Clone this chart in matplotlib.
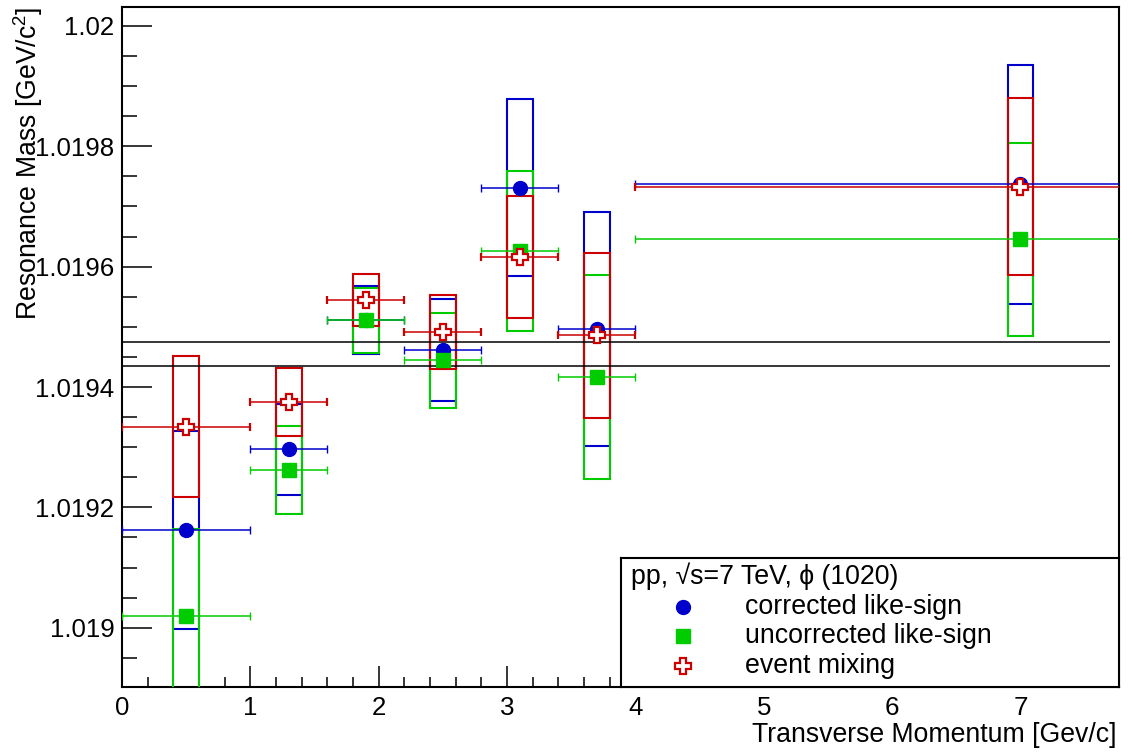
import matplotlib
matplotlib.use("Agg")
import matplotlib.pyplot as plt
import numpy as np
from matplotlib.ticker import FixedLocator, MultipleLocator

plt.rcParams['font.family'] = ['Liberation Sans', 'DejaVu Sans']
plt.rcParams['mathtext.fontset'] = 'custom'
plt.rcParams['mathtext.rm'] = 'Liberation Sans'
plt.rcParams['mathtext.it'] = 'Liberation Sans:italic'

# ---------------- data ----------------
pt_centers = [0.5, 1.3, 1.9, 2.5, 3.1, 3.7, 7.0]
bin_lo = [0.0, 1.0, 1.6, 2.2, 2.8, 3.4, 4.0]
bin_hi = [1.0, 1.6, 2.2, 2.8, 3.4, 4.0, 10.0]

mass_corr = [1.0191625, 1.0192963, 1.0195110, 1.0194615, 1.0197308, 1.0194962, 1.0197368]
sys_corr = [0.000164, 0.0000763, 0.0000561, 0.0000843, 0.000147, 0.000194, 0.000199]

mass_uncorr = [1.0190187, 1.0192620, 1.0195106, 1.0194443, 1.0196262, 1.0194168, 1.0196456]
sys_uncorr = [0.000145, 0.0000727, 0.0000533, 0.0000788, 0.000133, 0.000170, 0.000160]

mass_mix = [1.0193340, 1.0193749, 1.0195447, 1.0194912, 1.0196156, 1.0194857, 1.0197331]
sys_mix = [0.0001175, 0.0000567, 0.0000426, 0.0000619, 0.0001017, 0.0001377, 0.0001474]

pdg_mass = 1.019455
pdg_err = 0.000020

series_labels = ['corrected like-sign', 'uncorrected like-sign', 'event mixing']
header = 'pp, \u221as=7 TeV, \u03d5 (1020)'
x_title = 'Transverse Momentum [Gev/c]'
y_title = r'Resonance Mass [GeV/c$^{2}$]'
y_ticks = [1.019, 1.0192, 1.0194, 1.0196, 1.0198, 1.02]
y_tick_labels = ['1.019', '1.0192', '1.0194', '1.0196', '1.0198', '1.02']
x_ticks = [0, 1, 2, 3, 4, 5, 6, 7]

# ---------------- style ----------------
BLUE = '#0000cc'
GREEN = '#00cc00'
RED = '#cc0000'
W, H = 1132, 754

fig = plt.figure(figsize=(W / 100, H / 100), dpi=100)
ax = fig.add_axes([122 / W, 1 - 686.7 / H, (1119.3 - 122) / W, (686.7 - 6.7) / H])
ax.set_xlim(0, 7.77)
ax.set_ylim(1.018902, 1.020032)

x = np.array(pt_centers)
lo = np.array(bin_lo)
hi = np.array(bin_hi)
xerr = np.vstack([x - lo, hi - x])

box_w = 0.2
series = [
    (mass_corr, sys_corr, BLUE, 'o', 10, BLUE),
    (mass_uncorr, sys_uncorr, GREEN, 's', 10, GREEN),
    (mass_mix, sys_mix, RED, 'P', 11, 'white'),
]

# systematic boxes
for i, (m, s, c, mk, ms, mfc) in enumerate(series):
    m = np.array(m)
    s = np.array(s)
    ax.bar(x, 2 * s, bottom=m - s, width=box_w, fill=False, edgecolor=c,
           linewidth=1.5, zorder=2 + i)

# reference lines
ax.hlines([pdg_mass + pdg_err, pdg_mass - pdg_err], 0, 7.7, color='black',
          linewidth=1.1, zorder=5)

# points with x error bars
for i, (m, s, c, mk, ms, mfc) in enumerate(series):
    ax.errorbar(x, m, xerr=xerr, fmt=mk, color=c, ms=ms, mfc=mfc, mec=c,
                mew=1.6 if mk == 'P' else 1.0, elinewidth=1.1, capsize=2.6,
                capthick=1.1, zorder=6 + i, clip_on=True)

# axes styling
for sp in ax.spines.values():
    sp.set_linewidth(1.5)
ax.yaxis.set_major_locator(FixedLocator(y_ticks))
ax.set_yticklabels(y_tick_labels)
ax.yaxis.set_minor_locator(MultipleLocator(0.00005))
ax.xaxis.set_major_locator(FixedLocator(x_ticks))
ax.set_xticklabels([str(v) for v in x_ticks])
ax.xaxis.set_minor_locator(MultipleLocator(0.2))
ax.tick_params(axis='y', which='major', direction='in', length=21.6, width=1.1,
               labelsize=18.6, pad=5.5, left=True, right=False)
ax.tick_params(axis='y', which='minor', direction='in', length=10.8, width=1.1,
               left=True, right=False)
ax.tick_params(axis='x', which='major', direction='in', length=14.9, width=1.1,
               labelsize=18.6, pad=7, bottom=True, top=False)
ax.tick_params(axis='x', which='minor', direction='in', length=7.2, width=1.1,
               bottom=True, top=False)

# axis titles
fig.text(1116 / W, 1 - 742 / H, x_title, ha='right', va='baseline', fontsize=19.2)
fig.text(37 / W, 1 - 7 / H, y_title, rotation=90, rotation_mode='anchor',
         ha='right', va='baseline', fontsize=19.2)

# legend box
lx0, lx1, ly0, ly1 = 621, 1119.3, 558, 686.7
lax = fig.add_axes([lx0 / W, 1 - ly1 / H, (lx1 - lx0) / W, (ly1 - ly0) / H])
lax.set_xlim(lx0, lx1)
lax.set_ylim(ly1, ly0)
lax.set_xticks([])
lax.set_yticks([])
lax.patch.set_facecolor('white')
for sp in lax.spines.values():
    sp.set_linewidth(1.5)
lax.text(631, 576, header, ha='left', va='center', fontsize=19.3)
rows = [607, 636, 666]
for (m, s, c, mk, ms, mfc), lab, yy in zip(series, series_labels, rows):
    lax.plot([683], [yy], marker=mk, color=c, ms=ms, mfc=mfc, mec=c,
             mew=1.6 if mk == 'P' else 1.0, ls='none')
    lax.text(745, yy, lab, ha='left', va='center', fontsize=19.3)

fig.savefig('out.png', dpi=100)
